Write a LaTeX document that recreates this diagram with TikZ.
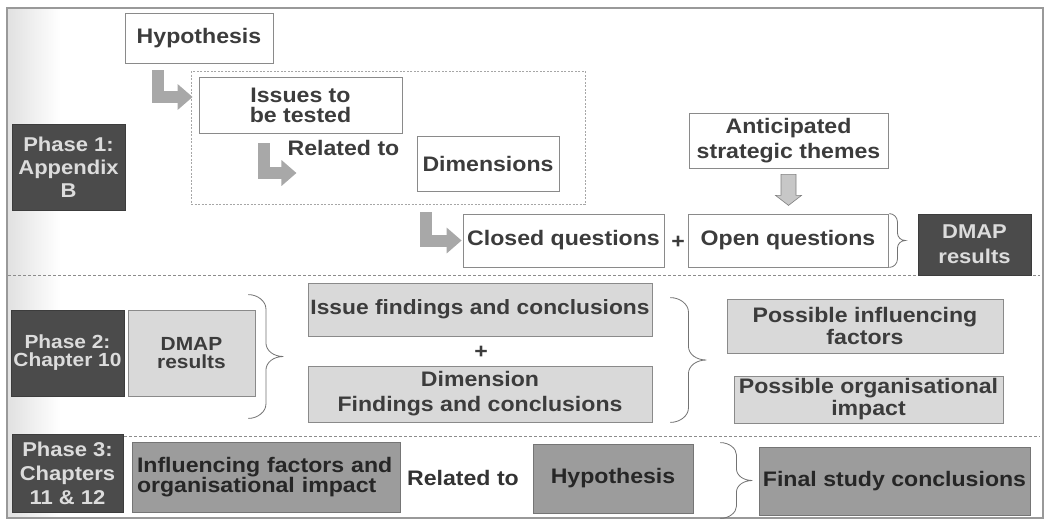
\documentclass[tikz,border=0pt]{standalone}
\usepackage{fontspec}
\setmainfont{Liberation Sans}[FakeStretch=1.1]
\usetikzlibrary{calc,arrows.meta}
\definecolor{dk}{HTML}{4B4B4B}
\definecolor{dktext}{HTML}{DCDCDC}
\definecolor{lt}{HTML}{D9D9D9}
\definecolor{md}{HTML}{9C9C9C}
\definecolor{edge}{HTML}{8A8A8A}
\definecolor{txt}{HTML}{3C3C3C}
\definecolor{arr}{HTML}{A8A8A8}
\newcommand\fz[2]{\fontsize{#1}{#2}\selectfont\bfseries}
\newcommand\cbrace[5]{\draw[brc] (#1) .. controls +(0.55*#4,0) and +(0,-0.5*#5) .. ($(#1)+(#4,#5)$) -- ($(#3)+(#4,-#5)$) .. controls +(0,0.6*#5) and +(-0.55*#4,0) .. ($(#3)+(2*#4,0)$) .. controls +(-0.55*#4,0) and +(0,-0.6*#5) .. ($(#3)+(#4,#5)$) -- ($(#2)+(#4,-#5)$) .. controls +(0,0.5*#5) and +(0.55*#4,0) .. (#2);}
\begin{document}
\begin{tikzpicture}[x=1pt,y=-1pt,
  box/.style={draw=edge,line width=0.8pt,align=center,inner sep=0pt,text=txt,font=\fz{21}{24}},
  wbox/.style={box,fill=white},
  dbox/.style={box,fill=dk,draw=dk!80!black,text=dktext},
  lbox/.style={box,fill=lt},
  mbox/.style={box,fill=md,draw=md!75!black,text=black!85},
  lab/.style={inner sep=0pt,text=txt,align=center,font=\fz{21}{24}},
  larr/.style={draw=arr,line width=12pt,line join=miter,-{Triangle[length=15pt,width=25pt]}},
  brc/.style={draw=black!55,line width=0.8pt},
  sep/.style={draw=black!45,line width=0.8pt,dash pattern=on 3pt off 2pt},
  region/.style={draw=black!35,line width=0.7pt,dash pattern=on 2pt off 1.5pt}
]
\useasboundingbox (0,0) rectangle (1046,520);
\fill[white] (0,0) rectangle (1046,520);
\shade[left color=black!12,right color=white] (7,8) rectangle (60,518);
\draw[black!40,line width=1.2pt] (7,8) rectangle (1043,518);

% separators and dotted region
\draw[sep] (8,275) -- (1040,275);
\draw[sep] (124,436) -- (1040,436);
\draw[region] (191,71) rectangle (585,204);

% Phase 1
\node[dbox,minimum width=113pt,minimum height=86pt,font=\fz{20}{23}] (ph1) at (68.5,167) {Phase 1:\\Appendix\\B};
\node[wbox,minimum width=148pt,minimum height=50pt] (hyp1) at (199,38) {Hypothesis};
\node[wbox,minimum width=203pt,minimum height=56pt,font=\fz{21}{20}] (iss) at (300.5,105) {Issues to\\be tested};
\node[lab] (rel1) at (343.5,148) {Related to};
\node[wbox,minimum width=142pt,minimum height=55pt] (dim) at (488,163.5) {Dimensions};
\node[wbox,minimum width=199pt,minimum height=55pt,font=\fz{21}{25}] (ant) at (788.5,140.5) {Anticipated\\strategic themes};
\node[wbox,minimum width=201pt,minimum height=53pt] (closed) at (563.5,240.5) {Closed questions};
\node[lab] (plus1) at (678,242) {+};
\node[wbox,minimum width=200pt,minimum height=53pt] (open) at (788,240.5) {Open questions};
\node[dbox,minimum width=113pt,minimum height=61pt,font=\fz{20}{25}] (dmap1) at (974.5,244.5) {DMAP\\results};

\coordinate (a2end) at ($(rel1.west)+(9,25)$);
\draw[larr] ($(hyp1.south west)+(33.5,7)$) |- ($(iss.west)+(-6,-8)$);
\draw[larr] ($(iss.south west)+(65,10)$) |- (a2end);
\draw[larr] ($(dim.south west)+(9,21)$) |- ($(closed.west)+(-1,0)$);
\draw[draw=black!50,fill=black!22,line width=0.6pt] ($(ant.south)+(-7.5,6)$) -- ++(15,0) -- ++(0,21) -- ++(5.5,0) -- ++(-13,10) -- ++(-13,-10) -- ++(5.5,0) -- cycle;

\coordinate (b1t) at ($(open.north east)+(1,0)$);
\coordinate (b1b) at ($(open.south east)+(1,0)$);
\coordinate (b1m) at ($(b1t)!.5!(b1b)$);
\cbrace{b1t}{b1b}{b1m}{8}{8}

% Phase 2
\node[dbox,minimum width=113pt,minimum height=86pt,font=\fz{19}{18}] (ph2) at (67.5,353) {Phase 2:\\Chapter 10};
\node[lbox,minimum width=127pt,minimum height=86pt,font=\fz{19}{18}] (dmap2) at (191.5,353) {DMAP\\results};
\node[lbox,minimum width=344pt,minimum height=53pt,font=\fz{20.7}{24}] (issf) at (480,309.5) {Issue findings and conclusions};
\node[lab] (plus2) at (481,352) {+};
\node[lbox,minimum width=344pt,minimum height=56pt,font=\fz{21}{25}] (dimf) at (480,394) {Dimension\\Findings and conclusions};
\node[lbox,minimum width=276pt,minimum height=54pt,font=\fz{21}{22}] (pif) at (865,326) {Possible influencing\\factors};
\node[lbox,minimum width=269pt,minimum height=47pt,font=\fz{21}{22}] (poi) at (868.5,399.5) {Possible organisational\\impact};

\coordinate (b2t) at ($(dmap2.north east)+(-7,-15)$);
\coordinate (b2b) at ($(dmap2.south east)+(-7,22)$);
\coordinate (b2m) at ($(b2t)!.5!(b2b)$);
\cbrace{b2t}{b2b}{b2m}{17.5}{14}
\coordinate (b3t) at ($(issf.north east)+(18,15)$);
\coordinate (b3b) at ($(dimf.south east)+(18,0)$);
\coordinate (b3m) at ($(b3t)!.5!(b3b)$);
\cbrace{b3t}{b3b}{b3m}{18}{14}

% Phase 3
\node[dbox,minimum width=111pt,minimum height=78pt,font=\fz{20}{24}] (ph3) at (67.5,473) {Phase 3:\\Chapters\\11 \& 12};
\node[mbox,minimum width=268pt,minimum height=70pt,text width=258pt,align=left,font=\fz{21}{19}] (inf) at (266,477) {Influencing factors and\\organisational impact};
\node[lab,text=black!80] (rel3) at (463,478) {Related to};
\node[mbox,minimum width=160pt,minimum height=69pt] (hyp3) at (613,478.5) {Hypothesis};
\node[mbox,minimum width=271pt,minimum height=68pt] (fin) at (894.5,481) {Final study conclusions};

\coordinate (b4t) at ($(hyp3.north east)+(27,-1)$);
\coordinate (b4b) at ($(hyp3.south east)+(27,5)$);
\coordinate (b4m) at ($(b4t)!.5!(b4b)$);
\cbrace{b4t}{b4b}{b4m}{16}{12}
\end{tikzpicture}
\end{document}
